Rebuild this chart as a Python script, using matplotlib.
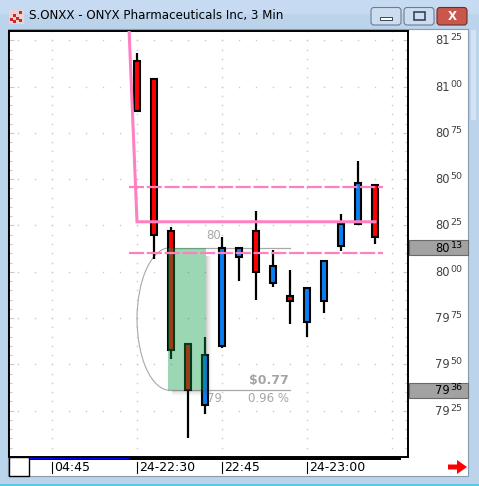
import matplotlib
matplotlib.use("Agg")
import matplotlib.pyplot as plt
from matplotlib.patches import Rectangle, Arc, FancyBboxPatch, Polygon
import numpy as np

# ---- 3-minute bars for S.ONXX (index 0 = 24-22:30) ----
bar_idx = list(range(15))
open_ = [81.14, 81.04, 80.22, 79.61, 79.28, 79.60, 80.08, 80.22, 79.94, 79.87, 79.73, 79.84, 80.14, 80.26, 80.47]
high = [81.18, 81.04, 80.24, 79.61, 79.65, 80.19, 80.13, 80.33, 80.12, 80.01, 79.91, 80.06, 80.31, 80.60, 80.47]
low = [80.86, 80.07, 79.53, 79.10, 79.23, 79.59, 79.95, 79.85, 79.92, 79.72, 79.65, 79.78, 80.11, 80.26, 80.15]
close = [80.87, 80.20, 79.58, 79.36, 79.55, 80.13, 80.13, 80.00, 80.03, 79.84, 79.91, 80.06, 80.26, 80.48, 80.19]

# trailing stop line (one value per bar, starting one bar before 22:30)
stop_idx = list(range(-1, 15))
stop_vals = [82.48] + [80.27] * 15
# horizontal dashed levels
level_vals = [80.46, 80.10]

# price measurement between two closes
meas_top = 80.13
meas_bot = 79.36
meas_text = "$0.77"
meas_pct = "0.96 %"

# axes labels
y_ticks = [79.25, 79.50, 79.75, 80.00, 80.25, 80.50, 80.75, 81.00, 81.25]
x_tick_idx = [-5, 0, 5, 10]
x_tick_labels = ["04:45", "24-22:30", "22:45", "24-23:00"]
title = "S.ONXX - ONYX Pharmaceuticals Inc, 3 Min"

W, H = 479, 486
fig = plt.figure(figsize=(W / 100, H / 100), dpi=100)

# window chrome, drawn in pixel coordinates
bg = fig.add_axes([0, 0, 1, 1])
bg.set_xlim(0, W)
bg.set_ylim(H, 0)
bg.axis("off")
bg.add_patch(Rectangle((0, 0), W, H, facecolor="#bcd3ec", edgecolor="none"))
bg.add_patch(Rectangle((0, 0), W, 14, facecolor="#c6dbf1", edgecolor="none"))
bg.add_patch(Rectangle((471, 30), 5, 90, facecolor="#d3e3f4", edgecolor="none"))
bg.plot([0, W], [H - 1, H - 1], color="#5ac8e0", lw=1.5)
bg.add_patch(Rectangle((8, 29), 460, 447, facecolor="white", edgecolor="#8a9ab0", lw=0.8))

# title icon
bg.add_patch(Rectangle((9, 10), 15, 14, facecolor="#e9d3d3", edgecolor="none"))
for (ix, iy) in [(10, 18), (13, 14), (16, 17), (19, 11), (19, 19), (13, 20)]:
    bg.add_patch(Rectangle((ix, iy), 3.5, 3.5, facecolor="#d22525", edgecolor="none"))
bg.text(29, 16, title, fontsize=8.6, family="DejaVu Sans", color="black", va="center", ha="left")

# caption buttons
for x0, face, edge in [(371, "#cddcee", "#6b7d95"), (404, "#cddcee", "#6b7d95"), (437, "#c9574c", "#6e2d28")]:
    bg.add_patch(FancyBboxPatch((x0, 7.5), 30, 17.5, boxstyle="round,pad=0,rounding_size=3",
                                facecolor=face, edgecolor=edge, lw=0.8))
bg.add_patch(Rectangle((380, 17), 12, 3, facecolor="white", edgecolor="#34465e", lw=0.7))
bg.add_patch(Rectangle((414, 12), 11, 8, facecolor="none", edgecolor="#34465e", lw=1.2))
bg.text(452.5, 16.5, "X", fontsize=8.5, fontweight="bold", color="white", ha="center", va="center")

# ---- chart axes ----
ax = fig.add_axes([9 / W, 1 - 457 / H, 399 / W, 426 / H])
ax.set_xlim(-7.53, 15.94)
ax.set_ylim(79.0, 81.30)
ax.set_facecolor("white")
for sp in ax.spines.values():
    sp.set_color("black")
    sp.set_linewidth(1.4)

grid_color = "#c8c8c8"
ax.set_xticks([])
ax.set_yticks(y_ticks)
ax.set_yticks(np.arange(79.0, 81.31, 0.05), minor=True)
ax.tick_params(axis="y", which="both", direction="in", left=True, right=True,
               labelleft=False, labelright=False, color=grid_color, width=0.8)
ax.tick_params(axis="y", which="major", length=3.6)
ax.tick_params(axis="y", which="minor", length=2.2)

# dotted grid
gx = np.arange(-7, 16)
for p in y_ticks:
    ax.plot(gx, [p] * len(gx), ls="none", marker="s", ms=1.0, mec="none", mfc=grid_color, zorder=1)
gp = np.arange(79.0, 81.31, 0.05)
for i in [-5, 0, 5, 10, 15]:
    ax.plot([i] * len(gp), gp, ls="none", marker="s", ms=1.0, mec="none", mfc=grid_color, zorder=1)

# measurement guide lines, arc and labels
ax.plot([1.85, 9.0], [meas_top, meas_top], color="#a8a8a8", lw=0.9, zorder=2)
ax.plot([1.85, 9.0], [meas_bot, meas_bot], color="#a8a8a8", lw=0.9, zorder=2)
ax.add_patch(Arc((1.94, (meas_top + meas_bot) / 2), 2 * 1.94, meas_top - meas_bot,
                 theta1=90, theta2=270, color="#a8a8a8", lw=0.8, zorder=2))
ax.annotate(f"{meas_top:.2f}"[:2], (4.1, meas_top), xytext=(0, 4), textcoords="offset points",
            fontsize=8.5, color="#a8a8a8", va="bottom", ha="left", zorder=2)
ax.annotate(f"{meas_bot:.2f}"[:2], (4.1, meas_bot), xytext=(0, -1.5), textcoords="offset points",
            fontsize=8.5, color="#a8a8a8", va="top", ha="left", zorder=2)
ax.annotate(meas_text, (8.95, meas_bot), xytext=(0, 2.5), textcoords="offset points",
            fontsize=9, fontweight="bold", color="#a4a4a4", va="bottom", ha="right", zorder=6)
ax.annotate(meas_pct, (8.95, meas_bot), xytext=(0, -1.5), textcoords="offset points",
            fontsize=8.5, color="#a4a4ac", va="top", ha="right", zorder=6)

# candles
up_color, down_color = "#0a7ef2", "#ff0000"
for i, o, h, l, c in zip(bar_idx, open_, high, low, close):
    ax.vlines(i, l, h, color="black", lw=1.6, zorder=3)
    col = up_color if c >= o else down_color
    ax.bar(i, abs(c - o), bottom=min(o, c), width=0.34, color=col, edgecolor="black", lw=1.5, zorder=4)

# highlighted measurement zone with a soft shadow
rx0, rx1 = 1.82, 4.06
ax.add_patch(Rectangle((rx0, meas_bot), rx1 - rx0, meas_top - meas_bot,
                       facecolor="#059b43", alpha=0.4, edgecolor="none", zorder=5))
px_i = 1 / 17.0
px_p = 1 / 185.3
for k, a in enumerate([0.26, 0.2, 0.14, 0.09, 0.05, 0.02]):
    ax.add_patch(Rectangle((rx1 + k * px_i, meas_bot - 6 * px_p), px_i, meas_top - meas_bot - 2 * px_p,
                           facecolor="#505050", alpha=a, edgecolor="none", zorder=5))
    ax.add_patch(Rectangle((rx0 + 4 * px_i, meas_bot - (k + 1) * px_p), rx1 - rx0 - 4 * px_i, px_p,
                           facecolor="#505050", alpha=a, edgecolor="none", zorder=5))

# pink stop and levels
pink = "#ff80c0"
ax.plot(stop_idx, stop_vals, color=pink, lw=2.2, zorder=7, solid_joinstyle="miter")
for v in level_vals:
    ax.plot([-0.47, 14.47], [v, v], color=pink, lw=1.6, ls=(0, (6.8, 1.2)), zorder=7)


def px_x(i):
    return ax.transData.transform((i, 0))[0]


def px_y(p):
    return H - ax.transData.transform((0, p))[1]


# price axis labels
for p in y_ticks:
    y = px_y(p)
    s = f"{p:.2f}"
    bg.text(450, y + 0.5, s[:2], fontsize=8.3, color="#404040", ha="right", va="center")
    bg.text(450.5, y - 2.5, s[3:], fontsize=6.8, color="#404040", ha="left", va="center")
for p in [meas_top, meas_bot]:
    y = px_y(p)
    s = f"{p:.2f}"
    bg.add_patch(Rectangle((409, y - 7.5), 59, 15, facecolor="#a2a2a2", edgecolor="#6a6a6a", lw=0.8, zorder=3))
    bg.text(450, y + 0.5, s[:2], fontsize=8.3, color="black", ha="right", va="center", zorder=4)
    bg.text(450.5, y - 2.5, s[3:], fontsize=6.8, color="black", ha="left", va="center", zorder=4)

# time axis labels
for i, lab in zip(x_tick_idx, x_tick_labels):
    x = px_x(i)
    bg.plot([x, x], [461.5, 473], color="black", lw=0.8)
    bg.text(x + 2.5, 467.5, lab, fontsize=9, color="black", ha="left", va="center")

# scroll bar strip and corner box
bg.add_patch(Rectangle((30, 457), 371, 3, facecolor="black", edgecolor="none", zorder=3))
bg.add_patch(Rectangle((30, 457), px_x(-0.5) - 30, 1.7, facecolor="#0000ff", edgecolor="none", zorder=4))
bg.add_patch(Rectangle((9, 457), 20, 19, facecolor="white", edgecolor="black", lw=1.0, zorder=3))

# red arrow
bg.add_patch(Polygon([(448, 464.5), (457, 464.5), (457, 460), (467, 467), (457, 474), (457, 469.5), (448, 469.5)],
                     closed=True, facecolor="#ff0000", edgecolor="none"))

fig.savefig("out.png", dpi=100)
